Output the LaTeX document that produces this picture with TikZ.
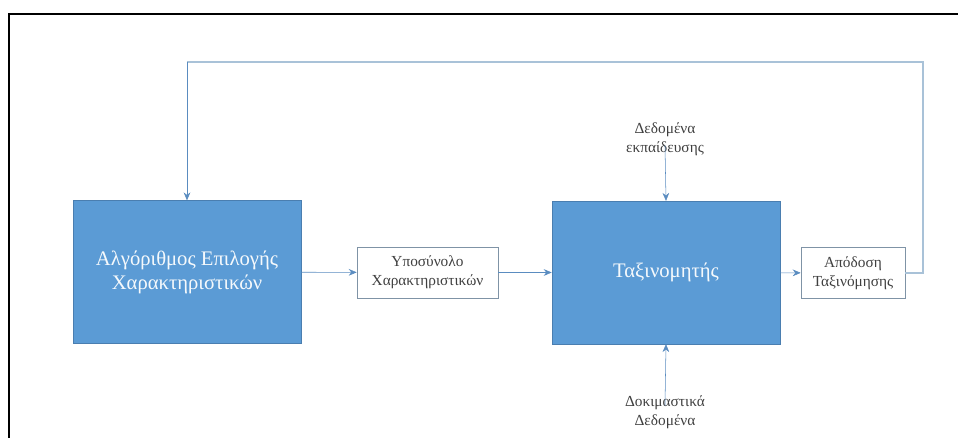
\documentclass[tikz,border=0pt]{standalone}
\usepackage{fontspec}
\setmainfont{Liberation Serif}
\usepackage{tikz}
\usetikzlibrary{arrows.meta, positioning}

\definecolor{boxblue}{HTML}{5B9BD5}
\definecolor{boxedge}{HTML}{4A7EB0}
\definecolor{arrowblue}{HTML}{5A8CC0}
\definecolor{loopblue}{HTML}{A9C2D8}
\definecolor{smalledge}{HTML}{7F93A6}
\definecolor{labelgray}{HTML}{404040}

\begin{document}
\begin{tikzpicture}[
        x=0.75pt, y=-0.75pt,
        bigbox/.style={rectangle, draw=boxedge, fill=boxblue, minimum width=171pt, minimum height=107pt, inner sep=0pt, align=center, font=\fontsize{15.5}{18}\selectfont, text=white!94!boxblue},
        smallbox/.style={rectangle, draw=smalledge, fill=white, minimum height=38pt, inner sep=0pt, align=center, font=\fontsize{11.5}{14}\selectfont, text=labelgray},
        datatext/.style={align=center, font=\fontsize{11.5}{14}\selectfont, text=labelgray, inner sep=0pt},
        arrow/.style={-{Stealth[length=6pt, width=5pt]}, thin, arrowblue}
    ]
        \useasboundingbox (0,0) rectangle (958,438);

        % Frame
        \draw[line width=1.3pt, black] (9,438) -- (9,14) -- (958,14);

        % Nodes
        \node[bigbox] (algo) at (187,272) {Αλγόριθμος Επιλογής\\Χαρακτηριστικών};
        \node[smallbox, minimum width=105.75pt] (subset) at (427.5,272.5) {Υποσύνολο\\Χαρακτηριστικών};
        \node[bigbox] (clf) at (666,272.5) {Ταξινομητής};
        \node[smallbox, minimum width=78pt] (perf) at (853,273) {Απόδοση\\Ταξινόμησης};
        \node[datatext] (train) at (665,139) {Δεδομένα\\εκπαίδευσης};
        \node[datatext] (test) at (665,412) {Δοκιμαστικά\\Δεδομένα};

        % Feedback corners
        \coordinate (fbright) at (923,62);
        \coordinate (fbleft) at (187,62);

        % Arrows
        \draw[arrow] (algo) -- (subset);
        \draw[arrow] (subset) -- (clf);
        \draw[arrow] (clf) -- (perf);
        \draw[arrow] (train.south) ++(0,-10) -- (clf.north);
        \draw[arrow] (test.north) ++(0,10) -- (clf.south);

        % Feedback loop
        \draw[line width=1.1pt, loopblue] (perf.east) -| (fbright) -- (fbleft);
        \draw[arrow] (fbleft) -- (algo.north);
    \end{tikzpicture}
\end{document}
